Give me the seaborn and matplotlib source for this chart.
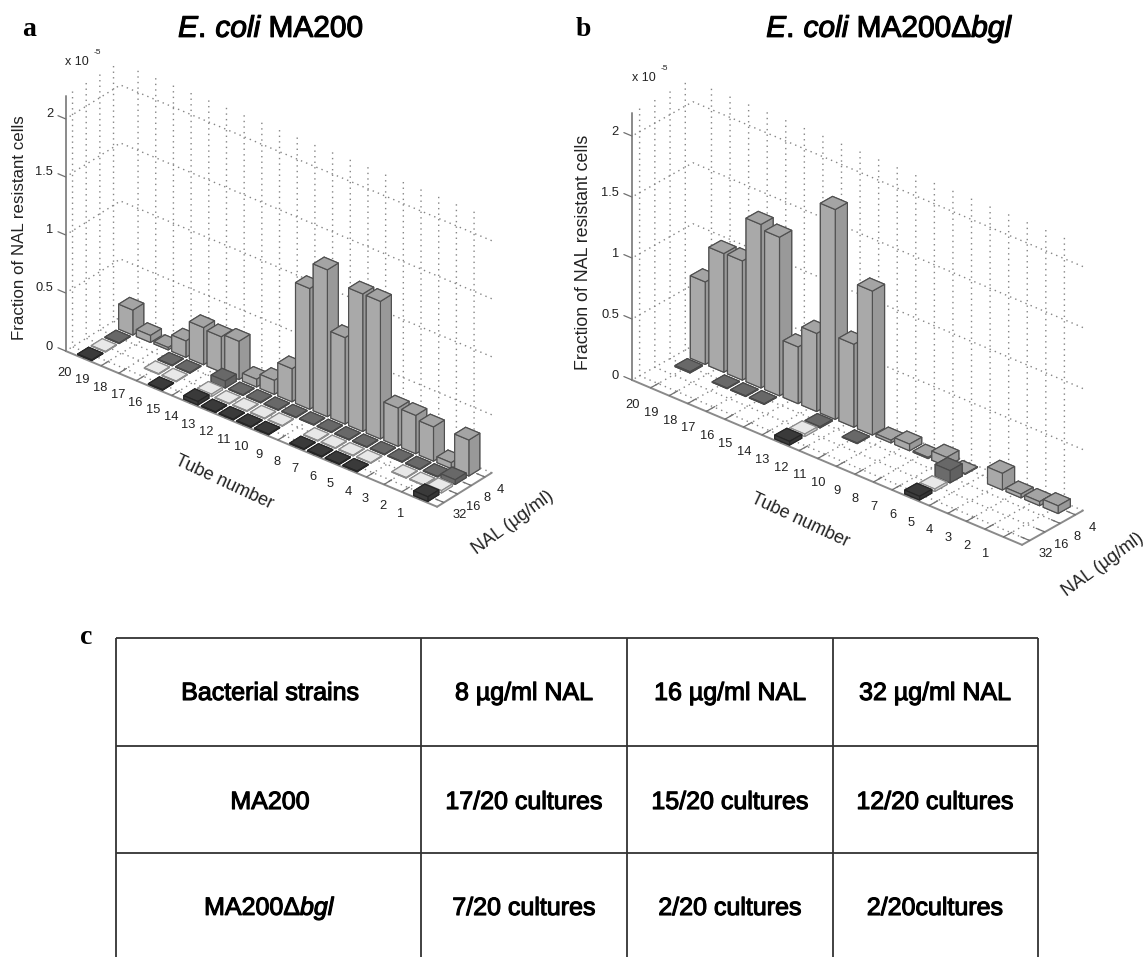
import matplotlib
matplotlib.use("Agg")
import matplotlib.pyplot as plt
import matplotlib.patheffects as pe
from mpl_toolkits.mplot3d import proj3d
import numpy as np
import seaborn as sns

# ---------------- DATA ----------------
tubes = list(range(1, 21))
nal_labels = ["32", "16", "8", "4"]
z_ticks = [0, 0.5, 1, 1.5, 2]
z_tick_labels = ["0", "0.5", "1", "1.5", "2"]

# fraction of NAL resistant cells (x 1e-5), tube 1 ... tube 20, 0 = no bar
a_nal4 = [.31, .05, .295, .33, .33, 1.185, 1.185, .745, 1.265, 1.04,
          .285, .12, .066, .33, .305, .32, .14, .02, .06, .215]
a_nal8 = [.04, .005, .005, .005, .005, .005, .005, .005, .005, .005,
          .005, .005, .005, .06, 0, .005, .005, 0, 0, .005]
a_nal16 = [.02, .005, .005, 0, .005, .005, .005, .005, 0, .005,
           .005, .005, .005, .02, 0, .005, .005, 0, 0, .005]
a_nal32 = [.04, 0, 0, 0, .005, .005, .005, .005, 0, .005,
           .005, .005, .005, .03, 0, .005, 0, 0, 0, .005]

b_nal4 = [.063, .033, .03, .136, 0, .005, .074, .01, .054, .022,
          1.18, .68, 1.72, .64, .465, 1.30, 1.34, .977, .973, .676]
b_nal8 = [0, 0, 0, 0, 0, .1, 0, 0, 0, 0,
          .005, 0, .01, 0, 0, .005, .005, .005, 0, .01]
b_nal16 = [0, 0, 0, 0, 0, .02, 0, 0, 0, 0,
           0, 0, .02, 0, 0, 0, 0, 0, 0, 0]
b_nal32 = [0, 0, 0, 0, 0, .03, 0, 0, 0, 0,
           0, 0, .03, 0, 0, 0, 0, 0, 0, 0]

table_header = ["Bacterial strains", "8 µg/ml NAL", "16 µg/ml NAL", "32 µg/ml NAL"]
table_ma200 = ["MA200", "17/20 cultures", "15/20 cultures", "12/20 cultures"]
table_bgl = ["MA200Δ$\\mathit{bgl}$", "7/20 cultures", "2/20 cultures", "2/20cultures"]

# ---------------- STYLE ----------------
sns.set_theme(style="white")
plt.rcParams["font.family"] = ["Liberation Sans", "DejaVu Sans"]
plt.rcParams["mathtext.fontset"] = "custom"
plt.rcParams["mathtext.rm"] = "Liberation Sans"
plt.rcParams["mathtext.it"] = "Liberation Sans:italic"
plt.rcParams["grid.color"] = "#858585"
plt.rcParams["grid.linestyle"] = (0, (1, 3))
plt.rcParams["grid.linewidth"] = 1.0

row_colors = ["#3a3a3a", "#e8e8e8", "#686868", "#a4a4a4"]
row_edges_col = ["#262626", "#8c8c8c", "#4a4a4a", "#505050"]
text_grey = "#222222"
W, H = 1148, 957
fig = plt.figure(figsize=(W / 100, H / 100), dpi=100, facecolor="white")

# whole-page axes in picture pixels, for the table and loose text
page = fig.add_axes([0, 0, 1, 1], zorder=5)
page.set_xlim(0, W)
page.set_ylim(H, 0)
page.axis("off")
page.patch.set_alpha(0)


def heavy(width=0.8):
    return [pe.withStroke(linewidth=width, foreground="black")]


def to_page(ax, x, y, z):
    # picture pixel of a 3D data point
    px, py, _z = proj3d.proj_transform(np.array([x]), np.array([y]), np.array([z]), ax.get_proj())
    pt = ax.transData.transform(np.column_stack([px, py]))[0]
    return pt[0], H - pt[1]


def fit_axes(ax, left_px, front_px, x_span, y_low):
    # scale and move a square 3D axes so the floor corners land on the wanted pixels
    size = 700.0
    ax.set_position([0.1, 0.1, size / W, size / H])
    for _ in range(2):
        p0 = to_page(ax, x_span[0], y_low, 0)
        p1 = to_page(ax, x_span[1], y_low, 0)
        want = np.hypot(front_px[0] - left_px[0], front_px[1] - left_px[1])
        size *= want / np.hypot(p1[0] - p0[0], p1[1] - p0[1])
        pos = ax.get_position()
        ax.set_position([pos.x0, pos.y0, size / W, size / H])
        p0 = to_page(ax, x_span[0], y_low, 0)
        pos = ax.get_position()
        ax.set_position([pos.x0 + (left_px[0] - p0[0]) / W,
                         pos.y0 - (left_px[1] - p0[1]) / H,
                         size / W, size / H])


def bar_panel(rows, elev, azim, box, zmax, left_px, front_px, off_x, off_y, off_z):
    ax = fig.add_axes([0.1, 0.1, 0.5, 0.5], projection="3d", computed_zorder=False)
    ax.set_proj_type("ortho")
    ax.view_init(elev=elev, azim=azim, roll=0)
    ax.set_box_aspect(box)
    ax.patch.set_alpha(0)

    order = 0
    # far row first, far tube first, so nearer bars paint over farther ones
    for r in range(3, -1, -1):
        base = row_colors[r]
        rgb = np.array(matplotlib.colors.to_rgb(base))
        faces = [base, base, np.minimum(rgb * 1.03, 1), base, base, rgb * 0.93]
        for t in range(19, -1, -1):
            h = rows[r][t]
            if h <= 0:
                continue
            ax.bar3d(21 - tubes[t] - 0.4, r + 1 - 0.4, 0, 0.8, 0.8, h,
                     color=faces, edgecolor=row_edges_col[r], linewidth=0.85,
                     shade=False, zorder=10 + order)
            order += 1

    ax.set_xlim(0, 21)
    ax.set_ylim(0.5, 4.5)
    ax.set_zlim(0, zmax)
    ax.set_xticks([21 - t for t in tubes])
    ax.set_xticklabels(["" for t in tubes])
    ax.set_yticks([1, 2, 3, 4])
    ax.set_yticklabels(["" for n in nal_labels])
    ax.set_zticks(z_ticks)
    ax.set_zticklabels(["" for z in z_ticks])
    ax.tick_params(color="#707070")
    for axis, out in zip((ax.xaxis, ax.yaxis, ax.zaxis), (1.75, 0.28, 0.26)):
        axis.set_pane_color((1, 1, 1, 0))
        axis.pane.set_edgecolor((1, 1, 1, 0))
        axis.line.set_color("#8a8a8a")
        axis.line.set_linewidth(1.4)
        axis._axinfo["tick"].update(inward_factor=0.0, outward_factor=out,
                                    linewidth={True: 0.9, False: 0.9})
    ax.zaxis.set_ticks_position("lower")
    # z ticks run along the tube direction, as in the original
    ax.zaxis._get_tickdir = lambda pos: 0
    ax.grid(True)
    fit_axes(ax, left_px, front_px, (0, 21), 0.5)

    # tick labels sit a fixed pixel offset from the projected tick
    for t in tubes:
        px, py = to_page(ax, 21 - t, 0.5, 0)
        page.text(px + off_x[0], py + off_x[1], str(t), size=9.3, ha="center", va="center",
                  color=text_grey)
    for i, lab in enumerate(nal_labels):
        px, py = to_page(ax, 21, i + 1, 0)
        page.text(px + off_y[0], py + off_y[1], lab, size=9.3, ha="center", va="center",
                  color=text_grey)
    for z, lab in zip(z_ticks, z_tick_labels):
        px, py = to_page(ax, 0, 0.5, z)
        page.text(px + off_z[0], py + off_z[1], lab, size=9.3, ha="right", va="center",
                  color=text_grey)
    return ax


ax_a = bar_panel([a_nal32, a_nal16, a_nal8, a_nal4], 30.7, -50.6,
                 (480, 86, 296.5), 2.2, (65.7, 351), (437, 507),
                 (-18.5, 14.5), (15.5, 12.5), (-12.5, -4.5))
ax_b = bar_panel([b_nal32, b_nal16, b_nal8, b_nal4], 29.2, -49.1,
                 (516, 93, 306), 2.19, (632, 380), (1022, 545),
                 (-18, 17), (16.5, 13.5), (-13, -4))

# ---------------- PANEL TEXT ----------------
for letter, x, y in [("a", 29, 29), ("b", 583, 29), ("c", 86, 638)]:
    page.text(x, y, letter, family="Liberation Serif", weight="bold", size=20,
              ha="center", va="center", color="black")

page.text(271, 29, "$\\mathit{E.}\\,\\mathit{coli}$ MA200", size=21.5, ha="center", va="center",
          color="black", path_effects=heavy())
page.text(890, 29, "$\\mathit{E.}\\,\\mathit{coli}$ MA200Δ$\\mathit{bgl}$", size=21.5, ha="center",
          va="center", color="black", path_effects=heavy())

page.text(20, 228, "Fraction of NAL resistant cells", size=12.2, rotation=90,
          ha="center", va="center", color=text_grey)
page.text(583, 252, "Fraction of NAL resistant cells", size=12.8, rotation=90,
          ha="center", va="center", color=text_grey)
page.text(224, 482, "Tube number", size=13, rotation=-25, ha="center", va="center",
          color=text_grey)
page.text(800, 520, "Tube number", size=13, rotation=-25, ha="center", va="center",
          color=text_grey)
page.text(513, 523, "NAL (µg/ml)", size=13, rotation=36, ha="center", va="center",
          color=text_grey)
page.text(1103, 565, "NAL (µg/ml)", size=13, rotation=36, ha="center", va="center",
          color=text_grey)
for x, y in [(77, 62), (644, 78)]:
    page.text(x, y, "x 10", size=9, ha="center", va="center", color=text_grey)
    page.text(x + 20, y - 9, "-5", size=6, ha="center", va="center", color=text_grey)

# ---------------- TABLE ----------------
col_edges = [116, 421, 627, 833, 1038]
row_edges = [638, 746, 853]
col_mid = [270, 524, 730, 935]
row_mid = [693, 802, 908]
page.hlines(row_edges, col_edges[0], col_edges[-1], color="#333333", linewidth=1.3)
page.vlines(col_edges, row_edges[0], H, color="#333333", linewidth=1.3)
for row, ym in zip([table_header, table_ma200, table_bgl], row_mid):
    for label, xm in zip(row, col_mid):
        page.text(xm, ym, label, size=18, ha="center", va="center", color="black",
                  path_effects=heavy())

plt.savefig("out.png", dpi=100)
